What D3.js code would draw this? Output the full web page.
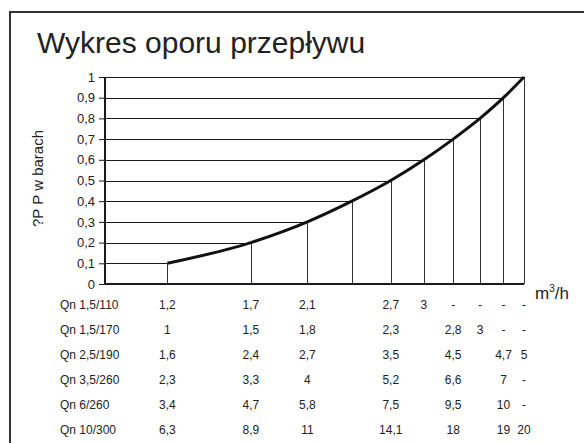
<!DOCTYPE html>
<html>
<head>
<meta charset="utf-8">
<script src="https://cdn.jsdelivr.net/npm/d3@7"></script>
<style>
  body { margin: 0; background: #fff; }
  svg { display: block; font-family: "Liberation Sans", Arial, sans-serif; }
</style>
</head>
<body>
<div id="chart"></div>
<script>
// pressure drop levels (bar) and where the curve crosses them (relative flow, % of axis)
const pressure = [0.1, 0.2, 0.3, 0.4, 0.5, 0.6, 0.7, 0.8, 0.9, 1.0];
const relFlow = [14.9, 34.8, 48.3, 58.9, 68.2, 76.1, 83.1, 89.5, 95.1, 100];
const yTicks = [0, 0.1, 0.2, 0.3, 0.4, 0.5, 0.6, 0.7, 0.8, 0.9, 1];

// flow table, one value per pressure level ("" = empty cell)
const meters = ["Qn 1,5/110", "Qn 1,5/170", "Qn 2,5/190", "Qn 3,5/260", "Qn 6/260", "Qn 10/300"];
const flows = [
  ["1,2", "1,7", "2,1", "", "2,7", "3", "-", "-", "-", "-"],
  ["1", "1,5", "1,8", "", "2,3", "", "2,8", "3", "-", "-"],
  ["1,6", "2,4", "2,7", "", "3,5", "", "4,5", "", "4,7", "5"],
  ["2,3", "3,3", "4", "", "5,2", "", "6,6", "", "7", "-"],
  ["3,4", "4,7", "5,8", "", "7,5", "", "9,5", "", "10", "-"],
  ["6,3", "8,9", "11", "", "14,1", "", "18", "", "19", "20"]
];

const W = 584, H = 443;
const svg = d3.select("#chart").append("svg").attr("width", W).attr("height", H);

// frame
svg.append("path")
  .attr("d", `M10,${H} V12 H${W}`)
  .attr("fill", "none").attr("stroke", "#333").attr("stroke-width", 2);

svg.append("text")
  .attr("x", 37).attr("y", 53)
  .attr("font-size", 30).attr("fill", "#222")
  .text("Wykres oporu przepływu");

const x = d3.scaleLinear().domain([0, 100]).range([105, 524]);
const y = d3.scaleLinear().domain([0, 1]).range([284, 77]);

const pts = pressure.map((p, i) => ({ p, q: relFlow[i] }));

const g = svg.append("g");

// horizontal lines from the axis to the curve
g.selectAll(".hline").data(pts).enter().append("line")
  .attr("x1", x(0)).attr("x2", d => x(d.q))
  .attr("y1", d => Math.round(y(d.p)) + 0.5).attr("y2", d => Math.round(y(d.p)) + 0.5)
  .attr("stroke", "#1a1a1a").attr("stroke-width", 1);

// vertical drop lines
g.selectAll(".vline").data(pts).enter().append("line")
  .attr("x1", d => Math.round(x(d.q)) + 0.5).attr("x2", d => Math.round(x(d.q)) + 0.5)
  .attr("y1", y(0)).attr("y2", d => y(d.p))
  .attr("stroke", "#333").attr("stroke-width", 1);

// y axis
const yAxis = d3.axisLeft(y)
  .tickValues(yTicks)
  .tickSize(6)
  .tickPadding(4)
  .tickFormat(d => String(+d.toFixed(1)).replace(".", ","));

const ag = svg.append("g").attr("transform", `translate(${x(0)},0)`).call(yAxis);
ag.select(".domain").attr("stroke", "#1a1a1a").attr("stroke-width", 2).attr("d", `M0,${y(1)}V${y(0)}`);
ag.selectAll(".tick line").attr("stroke", "#1a1a1a").attr("stroke-width", 1);
ag.selectAll(".tick text").attr("font-size", 13).attr("fill", "#222").attr("font-family", null);

// x axis line
svg.append("line")
  .attr("x1", x(0)).attr("x2", x(100))
  .attr("y1", y(0)).attr("y2", y(0))
  .attr("stroke", "#1a1a1a").attr("stroke-width", 2);

// curve
const line = d3.line().x(d => x(d.q)).y(d => y(d.p)).curve(d3.curveMonotoneX);
svg.append("path").datum(pts)
  .attr("d", line)
  .attr("fill", "none").attr("stroke", "#111").attr("stroke-width", 3);

// axis titles
svg.append("text")
  .attr("transform", `translate(43,${(y(0) + y(1)) / 2 - 2}) rotate(-90)`)
  .attr("text-anchor", "middle")
  .attr("font-size", 15).attr("fill", "#222")
  .text("?P P w barach");

const unit = svg.append("text")
  .attr("x", 535).attr("y", 299)
  .attr("font-size", 17).attr("fill", "#222");
unit.append("tspan").text("m");
unit.append("tspan").attr("font-size", 10).attr("dy", -7).text("3");
unit.append("tspan").attr("dy", 7).text("/h");

// table
const rowY = d3.scalePoint().domain(meters).range([305, 430]);

svg.selectAll(".rowlabel").data(meters).enter().append("text")
  .attr("x", 60).attr("y", d => rowY(d)).attr("dy", "0.35em")
  .attr("font-size", 12).attr("fill", "#222")
  .text(d => d);

meters.forEach((m, r) => {
  svg.selectAll(null).data(flows[r]).enter().append("text")
    .attr("x", (d, i) => x(relFlow[i]))
    .attr("y", rowY(m)).attr("dy", "0.35em")
    .attr("text-anchor", "middle")
    .attr("font-size", 12).attr("fill", "#222")
    .text(d => d);
});
</script>
</body>
</html>
